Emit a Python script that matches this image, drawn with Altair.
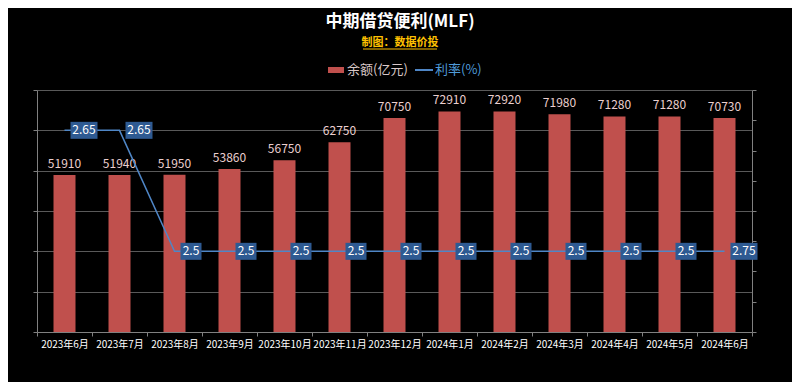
import altair as alt
import pandas as pd

months = ["2023年6月", "2023年7月", "2023年8月", "2023年9月", "2023年10月", "2023年11月",
          "2023年12月", "2024年1月", "2024年2月", "2024年3月", "2024年4月", "2024年5月", "2024年6月"]
balance = [51910, 51940, 51950, 53860, 56750, 62750, 70750, 72910, 72920, 71980, 71280, 71280, 70730]
rates = [2.65, 2.65, 2.5, 2.5, 2.5, 2.5, 2.5, 2.5, 2.5, 2.5, 2.5, 2.5, 2.5]
rate_labels = ["2.65", "2.65", "2.5", "2.5", "2.5", "2.5", "2.5", "2.5", "2.5", "2.5", "2.5", "2.5", "2.75"]

title_text = "中期借贷便利(MLF)"
subtitle_text = "制图：数据价投"
legend_bar = "余额(亿元)"
legend_line = "利率(%)"

df = pd.DataFrame({"month": months, "balance": balance, "rate": rates, "rate_label": rate_labels})

FONT = "Noto Sans CJK SC"
W, H = 715, 242
GRID = "#595959"
AXIS = "#808080"
BAR = "#C0504D"
LINE = "#4F86C6"
BOX = "#2E5A92"

left_dom = [0, 80000]
right_dom = [2.4, 2.7]

x_enc = alt.X(
    "month:N", sort=months, title=None,
    scale=alt.Scale(paddingInner=0, paddingOuter=0),
    axis=alt.Axis(labelAngle=0, labelColor="#FFFFFF", labelFont=FONT, labelFontSize=10,
                  labelOverlap=False, domainColor=AXIS, tickColor=AXIS, tickSize=4,
                  tickBand="extent", grid=False, labelPadding=3),
)

y_left = alt.Y(
    "balance:Q", title=None,
    scale=alt.Scale(domain=left_dom, nice=False, zero=True),
    axis=alt.Axis(values=[left_dom[1] * i / 6 for i in range(7)], labels=False, grid=True,
                  gridColor=GRID, domainColor=AXIS, tickColor=AXIS, tickSize=4),
)

y_right = alt.Y(
    "rate:Q", title=None,
    scale=alt.Scale(domain=right_dom, nice=False, zero=False),
    axis=alt.Axis(orient="right", values=[right_dom[0] + (right_dom[1] - right_dom[0]) * i / 8 for i in range(9)],
                  labels=False, grid=False, domainColor=AXIS, tickColor=AXIS, tickSize=4),
)

base = alt.Chart(df)

bars = base.mark_bar(size=22, color=BAR).encode(x=x_enc, y=y_left)
bar_text = base.mark_text(baseline="bottom", dy=-4, color="#EBCFCF", font=FONT, fontSize=12).encode(
    x=x_enc, y=y_left, text=alt.Text("balance:Q", format="d"))
left_layer = alt.layer(bars, bar_text)

line = base.mark_line(color=LINE, strokeWidth=1.5).encode(x=x_enc, y=y_right)


def label_layers(n, w):
    b = base.transform_filter(f"length(datum.rate_label) == {n}")
    box = b.mark_rect(width=w, xOffset=6 + w / 2, yOffset=-8.5, y2Offset=8.5, color=BOX).encode(
        x=x_enc, y=y_right, y2=alt.Y2("rate:Q"))
    txt = b.mark_text(align="center", baseline="middle", dx=6 + w / 2, color="#FFFFFF",
                      font=FONT, fontSize=12).encode(x=x_enc, y=y_right, text="rate_label:N")
    return [box, txt]


right_layer = alt.layer(line, *label_layers(4, 27), *label_layers(3, 21))


def one(text):
    return alt.Chart(pd.DataFrame({"t": [text]}))


title = one(title_text).mark_text(align="center", baseline="middle", font=FONT, fontSize=17,
                                  fontWeight="bold", color="#FFFFFF").encode(
    x=alt.value(363), y=alt.value(-68), text="t:N")
subtitle = one(subtitle_text).mark_text(align="center", baseline="middle", font=FONT, fontSize=11,
                                        fontWeight="bold", color="#FFC000").encode(
    x=alt.value(363), y=alt.value(-47), text="t:N")
underline = one(subtitle_text).mark_rule(color="#FFC000", strokeWidth=1).encode(
    x=alt.value(326), x2=alt.value(400), y=alt.value(-41))
leg_rect = one(legend_bar).mark_rect(color=BAR).encode(
    x=alt.value(291), x2=alt.value(307), y=alt.value(-23), y2=alt.value(-17))
leg_text1 = one(legend_bar).mark_text(align="left", baseline="middle", font=FONT, fontSize=13,
                                      color="#D9C8C8").encode(
    x=alt.value(310), y=alt.value(-20), text="t:N")
leg_line = one(legend_line).mark_rule(color=LINE, strokeWidth=2).encode(
    x=alt.value(378), x2=alt.value(396), y=alt.value(-20))
leg_text2 = one(legend_line).mark_text(align="left", baseline="middle", font=FONT, fontSize=13,
                                       color="#4F9BD9").encode(
    x=alt.value(398), y=alt.value(-20), text="t:N")

page_css = ("body{background:#000000}"
            "body::after{content:'';position:fixed;left:0;top:0;right:0;bottom:0;"
            "border:1px solid #8c8c8c;border-radius:5px;pointer-events:none}")

chart = alt.layer(
    left_layer, right_layer, title, subtitle, underline, leg_rect, leg_text1, leg_line, leg_text2
).resolve_scale(y="independent").properties(
    width=W, height=H,
    autosize=alt.AutoSizeParams(type="none"),
    padding={"left": 29, "top": 82, "right": 40, "bottom": 50},
    background="#000000",
    usermeta={"embedOptions": {"defaultStyle": page_css}},
).configure_view(strokeWidth=0)

chart.save("out.html", embed_options={"renderer": "svg", "actions": False})
